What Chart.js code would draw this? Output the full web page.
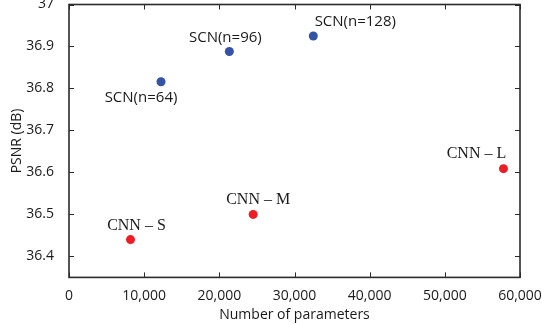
<!DOCTYPE html>
<html>
<head>
<meta charset="utf-8">
<script src="https://cdn.jsdelivr.net/npm/chart.js@4/dist/chart.umd.min.js"></script>
<style>
  html, body { margin: 0; padding: 0; background: #fff; }
  #wrap { width: 542px; height: 325px; position: relative; }
</style>
</head>
<body>
<div id="wrap"><canvas id="chart"></canvas></div>
<script>
// values
const scnLabels = ["SCN(n=64)", "SCN(n=96)", "SCN(n=128)"];
const scnParams = [12240, 21330, 32500];
const scnPsnr = [36.816, 36.888, 36.925];

const cnnLabels = ["CNN \u2013 S", "CNN \u2013 M", "CNN \u2013 L"];
const cnnParams = [8180, 24500, 57800];
const cnnPsnr = [36.44, 36.50, 36.609];

const xTicks = [0, 10000, 20000, 30000, 40000, 50000, 60000];
const yTicks = [36.4, 36.5, 36.6, 36.7, 36.8, 36.9, 37];

// where each annotation sits relative to its point
const scnOffsets = [[-20, 16], [-4, -14], [42, -14]];
const cnnOffsets = [[6, -14], [5, -15], [-27, -15]];

const sansFont = "'Open Sans', sans-serif";
const axisColor = "#2b2b2b";

const toPoints = (xs, ys) => xs.map((x, i) => ({ x: x, y: ys[i] }));

const boxPlugin = {
  id: "boxTicks",
  afterDraw(chart){
    const ctx = chart.ctx;
    const a = chart.chartArea;
    const xs = chart.scales.x, ys = chart.scales.y;
    ctx.save();
    ctx.strokeStyle = axisColor;
    ctx.lineWidth = 1;
    ctx.beginPath();
    xTicks.forEach(v => {
      const px = Math.round(xs.getPixelForValue(v)) + 0.5;
      ctx.moveTo(px, a.bottom); ctx.lineTo(px, a.bottom - 5);
      ctx.moveTo(px, a.top); ctx.lineTo(px, a.top + 5);
    });
    yTicks.forEach(v => {
      const py = Math.round(ys.getPixelForValue(v)) + 0.5;
      ctx.moveTo(a.left, py); ctx.lineTo(a.left + 5, py);
      ctx.moveTo(a.right, py); ctx.lineTo(a.right - 5, py);
    });
    ctx.stroke();
    ctx.lineWidth = 1.6;
    ctx.strokeRect(a.left, a.top, a.right - a.left, a.bottom - a.top);
    ctx.restore();
  }
};

const labelPlugin = {
  id: "pointLabels",
  afterDatasetsDraw(chart){
    const ctx = chart.ctx;
    ctx.save();
    ctx.textAlign = "center";
    ctx.textBaseline = "middle";
    ctx.fillStyle = "#1a1a1a";
    const groups = [
      { idx: 0, names: scnLabels, offs: scnOffsets, font: "15px " + sansFont },
      { idx: 1, names: cnnLabels, offs: cnnOffsets, font: "16px 'Liberation Serif', serif" }
    ];
    groups.forEach(g => {
      const meta = chart.getDatasetMeta(g.idx);
      ctx.font = g.font;
      meta.data.forEach((pt, i) => {
        ctx.fillText(g.names[i], pt.x + g.offs[i][0], pt.y + g.offs[i][1]);
      });
    });
    ctx.restore();
  }
};

new Chart(document.getElementById("chart"), {
  type: "scatter",
  data: {
    datasets: [
      {
        label: "SCN",
        data: toPoints(scnParams, scnPsnr),
        backgroundColor: "#3553a6",
        borderColor: "#3553a6",
        pointRadius: 4.5,
        borderWidth: 0
      },
      {
        label: "CNN",
        data: toPoints(cnnParams, cnnPsnr),
        backgroundColor: "#ee1d25",
        borderColor: "#ee1d25",
        pointRadius: 4.5,
        borderWidth: 0
      }
    ]
  },
  options: {
    responsive: true,
    maintainAspectRatio: false,
    animation: false,
    clip: false,
    layout: { padding: { top: 4, right: 22, left: 9, bottom: 2 } },
    plugins: {
      legend: { display: false },
      tooltip: { enabled: false }
    },
    scales: {
      x: {
        type: "linear",
        min: 0,
        max: 60000,
        grid: { display: false },
        border: { display: false },
        afterBuildTicks(scale){ scale.ticks = xTicks.map(v => ({ value: v })); },
        afterFit(scale){ scale.paddingLeft = 0; scale.paddingRight = 0; },
        ticks: {
          color: "#1a1a1a",
          font: { family: sansFont, size: 14 },
          padding: 2,
          maxRotation: 0,
          callback: v => v.toLocaleString("en-US")
        },
        title: {
          display: true,
          text: "Number of parameters",
          color: "#1a1a1a",
          font: { family: sansFont, size: 14 },
          padding: { top: 0, bottom: 0 }
        }
      },
      y: {
        type: "linear",
        min: 36.35,
        max: 37,
        grid: { display: false },
        border: { display: false },
        afterBuildTicks(scale){ scale.ticks = yTicks.map(v => ({ value: v })); },
        afterFit(scale){ scale.paddingTop = 0; scale.paddingBottom = 0; scale.width = 60; },
        ticks: {
          color: "#1a1a1a",
          font: { family: sansFont, size: 14 },
          padding: 7,
          callback: v => (v === 37 ? "37" : v.toFixed(1))
        },
        title: {
          display: true,
          text: "PSNR (dB)",
          color: "#1a1a1a",
          font: { family: sansFont, size: 14 },
          padding: { top: 0, bottom: 2 }
        }
      }
    }
  },
  plugins: [boxPlugin, labelPlugin]
});
</script>
</body>
</html>
